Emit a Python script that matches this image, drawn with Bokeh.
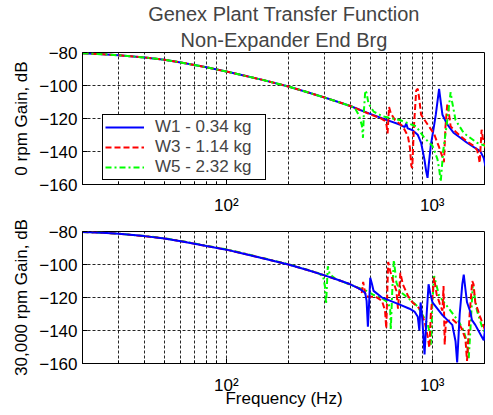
from bokeh.plotting import figure
from bokeh.models import FixedTicker, Title, Legend, LegendItem, Range1d
from bokeh.layouts import column
from bokeh.embed import file_html
from bokeh.resources import INLINE

FONT = "Liberation Sans"

# ---------------- data ----------------
X_MAJOR = [100, 1000]
X_LABELS = {100: "10²", 1000: "10³"}
X_MINOR = [20, 30, 40, 50, 60, 70, 80, 90, 200, 300, 400, 500, 600, 700, 800, 900]
Y_TICKS = [-160, -140, -120, -100, -80]

SERIES_NAMES = ["W1 - 0.34 kg", "W3 - 1.14 kg", "W5 - 2.32 kg"]

# common low-frequency part (curves overlap)
LOW_F = [20, 25, 30, 40, 50, 60, 70, 80, 100, 120, 150, 200, 250, 300, 350, 400]
LOW_DB_TOP = [-80.5, -81.0, -81.7, -83.0, -84.4, -86.0, -87.6, -89.0, -91.5, -93.8,
              -96.6, -100.6, -104.2, -107.3, -110.0, -112.4]
LOW_DB_BOT = [-80.3, -80.8, -81.4, -82.8, -84.3, -85.9, -87.4, -88.8, -91.0, -93.3,
              -96.2, -100.0, -103.5, -106.6, -109.4, -112.0]

# ---- 0 rpm ----
W1_TOP_F = [450, 500, 600, 700, 735, 748, 760, 800, 850, 883, 916, 935, 949, 962, 985,
            1010, 1041, 1065, 1080, 1095, 1121, 1184, 1274, 1380, 1476, 1600, 1710, 1780, 1815]
W1_TOP_DB = [-115.0, -117.2, -120.8, -123.8, -125.2, -123.0, -126.0, -127.0, -129.8, -134.7,
             -144.6, -152.0, -156.0, -148.0, -136.0, -128.0, -117.7, -108.0, -102.0, -108.0,
             -117.7, -123.6, -128.8, -132.0, -134.7, -137.5, -139.7, -144.0, -149.0]

W3_TOP_F = [450, 500, 560, 590, 600, 607, 617, 630, 660, 700, 720, 762, 780, 791, 800, 815,
            836, 851, 865, 883, 950, 1022, 1080, 1121, 1140, 1160, 1184, 1200, 1229, 1300,
            1372, 1480, 1588, 1650, 1679, 1700, 1738, 1760, 1815]
W3_TOP_DB = [-115.0, -117.5, -119.8, -121.5, -124.0, -129.0, -113.0, -117.0, -121.0, -123.5,
             -124.8, -130.7, -138.0, -148.5, -150.0, -125.0, -103.0, -102.0, -108.0, -117.7,
             -123.6, -129.5, -137.4, -143.3, -146.5, -125.0, -110.9, -115.0, -124.8, -128.0,
             -130.7, -134.0, -136.6, -139.0, -142.5, -147.0, -126.8, -131.5, -138.0]

W5_TOP_F = [420, 440, 455, 461, 466, 473, 480, 490, 519, 577, 695, 836, 916, 1003, 1060,
            1085, 1100, 1130, 1184, 1229, 1250, 1298, 1423, 1649, 1815]
W5_TOP_DB = [-113.4, -118.0, -124.0, -131.7, -115.0, -103.0, -104.5, -110.9, -115.8, -118.8,
             -120.9, -124.8, -131.7, -136.6, -144.6, -152.0, -158.4, -140.0, -120.9, -104.0,
             -110.0, -120.9, -128.8, -134.7, -136.6]

# ---- 30,000 rpm ----
W1_BOT_F = [440, 465, 473, 480, 487, 493, 500, 510, 519, 568, 682, 776, 820, 851, 866, 878,
            895, 918, 940, 960, 980, 1003, 1121, 1252, 1298, 1322, 1360, 1400, 1423, 1450,
            1476, 1532, 1560, 1619, 1738, 1780, 1815]
W1_BOT_DB = [-114.5, -116.5, -117.5, -122.0, -137.7, -125.0, -108.0, -112.0, -116.0, -119.9,
             -123.9, -126.8, -128.5, -131.7, -140.0, -123.0, -133.0, -154.5, -130.0, -112.0,
             -118.0, -122.9, -130.7, -136.6, -146.5, -159.4, -130.0, -112.0, -106.1, -115.0,
             -122.9, -128.8, -133.7, -136.6, -143.6, -146.0, -137.0]

W3_BOT_F = [440, 455, 462, 467, 475, 490, 530, 570, 590, 598, 611, 625, 645, 670, 682, 690,
            700, 720, 762, 800, 870, 920, 955, 968, 985, 1022, 1050, 1090, 1121, 1135, 1150,
            1165, 1250, 1380, 1450, 1476, 1520, 1565, 1588, 1619, 1710, 1815]
W3_BOT_DB = [-114.5, -117.0, -110.5, -114.0, -119.0, -119.5, -119.5, -122.0, -128.0, -138.7,
             -98.5, -104.0, -110.0, -116.0, -126.8, -118.0, -105.0, -112.0, -118.9, -122.9,
             -126.8, -135.0, -145.0, -150.5, -130.0, -108.0, -118.0, -124.0, -128.0, -113.0,
             -148.6, -135.0, -133.0, -138.0, -145.0, -158.4, -130.0, -110.0, -112.0, -123.0,
             -131.7, -140.6]

W5_BOT_F = [20, 25, 30, 40, 50, 60, 70, 80, 100, 120, 150, 200, 250, 280, 295, 301, 305,
            311, 318, 340, 400, 480, 520, 570, 610, 625, 629, 640, 651, 670, 700, 791, 850,
            899, 950, 975, 986, 1000, 1022, 1080, 1206, 1347, 1420, 1476, 1504, 1540, 1575,
            1600, 1650, 1738, 1815]
W5_BOT_DB = [-80.3, -80.8, -81.3, -82.7, -84.1, -85.7, -87.2, -88.6, -90.8, -93.1, -96.0,
             -99.8, -103.3, -105.3, -107.2, -113.0, -124.0, -101.1, -106.0, -108.8, -112.2,
             -116.0, -118.5, -120.5, -123.0, -127.0, -139.7, -115.0, -97.2, -111.0, -116.5,
             -121.9, -125.5, -130.7, -136.0, -142.0, -148.6, -125.0, -107.0, -118.9, -126.8,
             -134.7, -140.0, -147.0, -157.5, -135.0, -112.0, -118.0, -128.0, -137.0, -142.0]

COLORS = ["#0000ff", "#ff0000", "#00ff00"]
DASHES = ["solid", "6 3", "6 3 2 3"]


def make_fig(frame_h, ylabel, tick_standoff, b_top):
    p = figure(frame_width=403, frame_height=frame_h, x_axis_type="log",
               x_range=Range1d(20, 1815), y_range=Range1d(-160, -80),
               output_backend="svg", toolbar_location=None,
               min_border_left=0, min_border_right=0,
               min_border_top=b_top, min_border_bottom=0,
               margin=(0, 0, 0, 9))
    p.background_fill_color = "white"
    p.border_fill_color = "white"
    p.outline_line_color = "black"
    p.outline_line_alpha = 1
    p.outline_line_width = 1

    p.xaxis.ticker = FixedTicker(ticks=X_MAJOR, minor_ticks=X_MINOR)
    p.xaxis.major_label_overrides = X_LABELS
    p.yaxis.ticker = FixedTicker(ticks=Y_TICKS)
    for ax in (p.xaxis[0], p.yaxis[0]):
        ax.axis_line_color = "black"
        ax.major_tick_line_color = "black"
        ax.minor_tick_line_color = "black"
        ax.major_tick_in = 5
        ax.major_tick_out = 0
        ax.minor_tick_in = 3
        ax.minor_tick_out = 0
        ax.major_label_text_font = FONT
        ax.major_label_text_font_size = "17px"
        ax.major_label_text_color = "black"
        ax.axis_label_text_font = FONT
        ax.axis_label_text_font_size = "17px"
        ax.axis_label_text_font_style = "normal"
        ax.axis_label_text_color = "black"
    p.yaxis.major_label_standoff = 5
    p.yaxis.axis_label = ylabel
    p.yaxis.axis_label_standoff = 5
    p.xaxis.major_label_standoff = tick_standoff

    for g in (p.xgrid[0], p.ygrid[0]):
        g.grid_line_color = "black"
        g.grid_line_dash = "3 2"
        g.grid_line_alpha = 0.85
        g.grid_line_width = 1
    p.xgrid.minor_grid_line_color = "black"
    p.xgrid.minor_grid_line_dash = "3 2"
    p.xgrid.minor_grid_line_alpha = 0.85
    return p


# ---------------- top figure ----------------
p1 = make_fig(132, "0 rpm Gain, dB", 11, 0)
p1.title.text = "Genex Plant Transfer Function"
p1.title.align = "center"
p1.title.text_font = FONT
p1.title.text_font_size = "20px"
p1.title.text_font_style = "normal"
p1.title.standoff = 0
p1.add_layout(Title(text="Non-Expander End Brg", align="center",
                    text_font=FONT, text_font_size="20px", text_font_style="normal",
                    standoff=4), "above")

top_data = [(LOW_F + W1_TOP_F, LOW_DB_TOP + W1_TOP_DB),
            (LOW_F + W3_TOP_F, LOW_DB_TOP + W3_TOP_DB),
            (LOW_F + W5_TOP_F, LOW_DB_TOP + W5_TOP_DB)]
renderers = []
for (fx, fy), c, d in zip(top_data, COLORS, DASHES):
    renderers.append(p1.line(fx, fy, line_color=c, line_width=2, line_dash=d))

items = [LegendItem(label=name, renderers=[r]) for name, r in zip(SERIES_NAMES, renderers)]
legend = Legend(items=items, location=(20, 4), orientation="vertical",
                label_text_font=FONT, label_text_font_size="17px",
                glyph_width=39, glyph_height=18, label_height=18, label_width=108,
                label_standoff=11, padding=2, spacing=-3, margin=0,
                border_line_color="black", border_line_width=1, border_line_alpha=1,
                background_fill_color="white", background_fill_alpha=1)
p1.add_layout(legend)

# ---------------- bottom figure ----------------
p2 = make_fig(132, "30,000 rpm Gain, dB", 12, 14)
p2.xaxis.axis_label = "Frequency (Hz)"
p2.xaxis.axis_label_standoff = -9

bot_data = [(W5_BOT_F, W5_BOT_DB),
            (LOW_F + W3_BOT_F, LOW_DB_BOT + W3_BOT_DB),
            (LOW_F + W1_BOT_F, LOW_DB_BOT + W1_BOT_DB)]
for (fx, fy), c, d in zip(bot_data, [COLORS[2], COLORS[1], COLORS[0]],
                          [DASHES[2], DASHES[1], DASHES[0]]):
    p2.line(fx, fy, line_color=c, line_width=2, line_dash=d)

layout = column(p1, p2)
open("out.html", "w").write(file_html(layout, INLINE))
